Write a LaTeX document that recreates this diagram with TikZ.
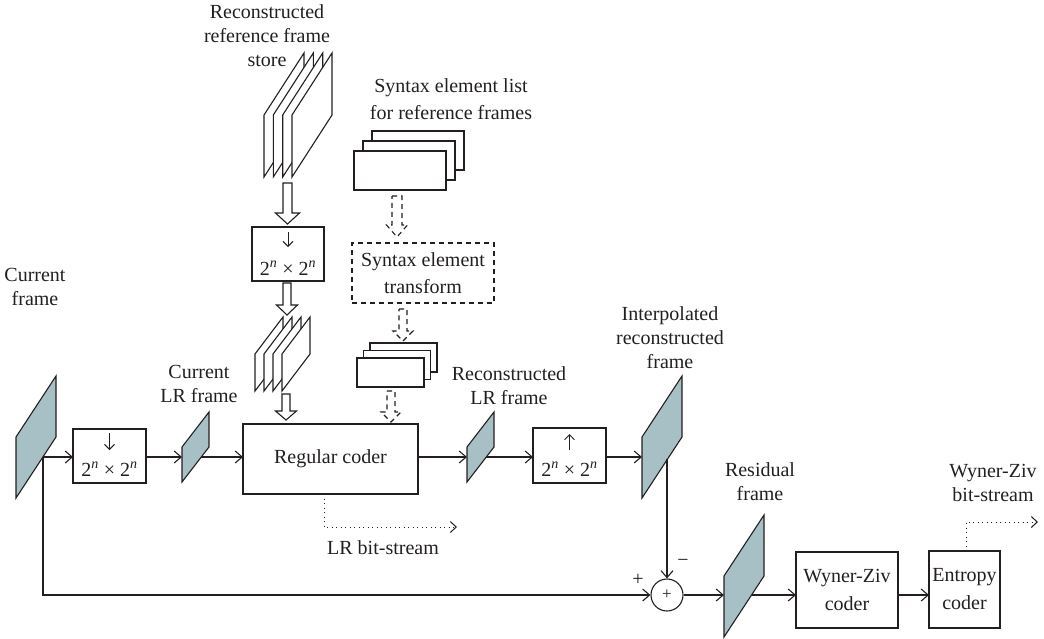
\documentclass[tikz,border=0pt]{standalone}
\usepackage{fontspec}
\setmainfont{Liberation Serif}
\usetikzlibrary{arrows.meta}
\definecolor{framefill}{RGB}{167,192,197}
\definecolor{ink}{RGB}{35,31,32}
% parallelogram frame: [style] x0 ybottom width height slant
\newcommand\pframe[6][]{\filldraw[#1] (#2,#3) -- (#2,{#3-#5}) -- ({#2+#4},{#3-#5-#6}) -- ({#2+#4},{#3-#6}) -- cycle;}
% hollow arrow: [style] xc ytop ytip halfshaft halfhead headlen
\newcommand\harrow[7][]{\filldraw[fill=white,#1] ({#2-#5},#3) -- ({#2+#5},#3) -- ({#2+#5},{#4-#7}) -- ({#2+#6},{#4-#7}) -- (#2,#4) -- ({#2-#6},{#4-#7}) -- ({#2-#5},{#4-#7}) -- cycle;}
\begin{document}
\begin{tikzpicture}[x=1pt,y=-1pt,line width=1.1pt,draw=ink,text=ink,
  font=\fontsize{20}{24}\selectfont,
  box/.style={draw,fill=white,inner sep=0pt,outer sep=0pt,align=center},
  lbl/.style={align=center,inner sep=0pt},
  wide/.style={font=\fontsize{20}{27}\selectfont},
  conn/.style={-{Straight Barb[length=7pt,width=12pt]}},
  smallarr/.style={line width=1pt,-{Straight Barb[length=5pt,width=10pt]}},
  dotconn/.style={line width=1pt,dash pattern=on 1pt off 3.5pt,-{Straight Barb[length=6pt,width=11pt]}},
  dashbox/.style={dash pattern=on 5pt off 4pt},
  white frame/.style={fill=white,draw=ink},
  grey frame/.style={fill=framefill,draw=ink}]
\useasboundingbox (0,0) rectangle (1044,638);

% ---------- labels ----------
\node[lbl] (lrefstore) at (267,36) {Reconstructed\\reference frame\\store};
\node[lbl,wide] (lsyn) at (451,99) {Syntax element list\\for reference frames};
\node[lbl] (lcf) at (35,287) {Current\\frame};
\node[lbl] (lclr) at (199,384) {Current\\LR frame};
\node[lbl] (lrlr) at (509,386) {Reconstructed\\LR frame};
\node[lbl] (lip) at (670,338) {Interpolated\\reconstructed\\frame};
\node[lbl] (lres) at (760,482) {Residual\\frame};
\node[lbl] (lwzb) at (993,483) {Wyner-Ziv\\bit-stream};
\node[lbl] (llrb) at (383,548) {LR bit-stream};

% ---------- reference frame store stack ----------
\pframe[white frame]{264}{177}{40}{62}{62}
\pframe[white frame]{273.3}{177}{40}{62}{62}
\pframe[white frame]{282.7}{177}{40}{62}{62}
\pframe[white frame]{292}{177}{40}{62}{62}
\harrow{287.5}{183}{224}{4.5}{12}{11}

% ---------- downsampling box (top) ----------
\node[box,minimum width=72pt,minimum height=54pt] (down1) at (288,254) {};
\draw[smallarr] (288,232) -- (288,247);
\node[lbl] at (288,268) {2\textsuperscript{\itshape n} × 2\textsuperscript{\itshape n}};
\harrow{287}{283}{315}{4}{10.5}{10}

% ---------- LR reference stack ----------
\pframe[white frame]{255}{391}{28}{37}{37}
\pframe[white frame]{264}{391}{28}{37}{37}
\pframe[white frame]{273}{391}{28}{37}{37}
\pframe[white frame]{282}{391}{28}{37}{37}
\harrow{286}{394}{420}{4}{10.5}{9}

% ---------- syntax element list stack ----------
\filldraw[fill=white] (372,131) rectangle ++(92,39);
\filldraw[fill=white] (363,141) rectangle ++(92,39);
\filldraw[fill=white] (354,151) rectangle ++(92,39);
\harrow[dashbox]{397}{196}{237}{5}{10.5}{12}

\node[box,dashbox,wide,minimum width=142pt,minimum height=60pt] (setr) at (423,273) {Syntax element\\transform};
\harrow[dashbox]{403}{309}{341}{4}{10}{10}

\filldraw[fill=white] (370,343) rectangle ++(67,29);
\filldraw[fill=white] (363.5,350.5) rectangle ++(67,29);
\filldraw[fill=white] (357,358) rectangle ++(67,29);
\harrow[dashbox]{391}{391}{422}{4}{10}{10}

% ---------- main row ----------
\pframe[grey frame]{16}{498}{40}{61}{61}
\coordinate (cf-out) at (43,457);

\node[box,minimum width=73pt,minimum height=54pt] (down2) at (109.5,456) {};
\draw[smallarr] (109.5,433) -- (109.5,450);
\node[lbl] at (109.5,469) {2\textsuperscript{\itshape n} × 2\textsuperscript{\itshape n}};

\pframe[grey frame]{182}{482}{27}{35}{35}
\coordinate (clr-in) at (182,457);
\coordinate (clr-out) at (201.3,457);

\node[box,minimum width=175pt,minimum height=70pt] (rc) at (330.5,459) {Regular coder};

\pframe[grey frame]{467}{482}{27}{35}{35}
\coordinate (rlr-in) at (467,457);
\coordinate (rlr-out) at (486.3,457);

\node[box,minimum width=73pt,minimum height=55pt] (up) at (569.5,455.5) {};
\draw[smallarr] (569.5,450) -- (569.5,434);
\node[lbl] at (569.5,469) {2\textsuperscript{\itshape n} × 2\textsuperscript{\itshape n}};

\pframe[grey frame]{642}{498}{40}{61}{61}
\coordinate (ip-in) at (642,457);
\coordinate (ip-out) at (667,459);

\node[circle,draw,fill=white,minimum size=32pt,inner sep=0pt] (sum) at (667,595) {\fontsize{17}{17}\selectfont +};
\node[lbl] (plus) at (638,580) {+};
\node[lbl] (minus) at (683,563) {−};

\pframe[grey frame]{724}{637}{40}{61}{61}
\coordinate (res-in) at (724,595);
\coordinate (res-out) at (751.5,595);

\node[box,minimum width=102pt,minimum height=76pt,font=\fontsize{20}{28}\selectfont] (wz) at (847,590) {Wyner-Ziv\\coder};
\node[box,minimum width=71pt,minimum height=77pt,font=\fontsize{20}{28}\selectfont] (ent) at (964.5,589.5) {Entropy\\coder};

% ---------- connectors ----------
\draw[conn] (cf-out) -- (cf-out -| down2.west);
\draw[conn] (cf-out -| down2.east) -- (clr-in);
\draw[conn] (clr-out) -- (clr-out -| rc.west);
\draw[conn] (rlr-in -| rc.east) -- (rlr-in);
\draw[conn] (rlr-out) -- (rlr-out -| up.west);
\draw[conn] (ip-in -| up.east) -- (ip-in);
\draw[conn] (ip-out) -- (sum.north);
\draw[conn] (cf-out) -- (cf-out |- sum.west) -- (sum.west);
\draw[conn] (sum.east) -- (res-in);
\draw[conn] (res-out) -- (res-out -| wz.west);
\draw[conn] (res-out -| wz.east) -- (res-out -| ent.west);

\coordinate (lrb1) at (324,527);
\coordinate (lrb2) at (457,527);
\draw[dotconn] (rc.south -| lrb1) -- (lrb1) -- (lrb2);
\coordinate (wzb1) at (966,522);
\coordinate (wzb2) at (1038,522);
\draw[dotconn] (ent.north -| wzb1) -- (wzb1) -- (wzb2);
\end{tikzpicture}
\end{document}
